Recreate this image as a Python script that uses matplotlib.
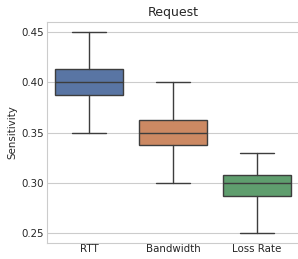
import numpy as np
import matplotlib
matplotlib.use("Agg")
import matplotlib.pyplot as plt
import seaborn as sns

# summary stats
categorias = ["RTT", "Bandwidth", "Loss Rate"]
whislo = [0.35, 0.30, 0.25]
q1 = [0.387, 0.3375, 0.287]
med = [0.40, 0.35, 0.30]
q3 = [0.413, 0.3625, 0.3075]
whishi = [0.45, 0.40, 0.33]

sns.set_style("whitegrid")
plt.rcParams["font.family"] = ["DejaVu Sans"]

colores = [sns.desaturate(c, 0.75) for c in sns.color_palette("deep")[:3]]

stats = []
for i, nombre in enumerate(categorias):
    stats.append(dict(label=nombre, whislo=whislo[i], q1=q1[i], med=med[i],
                      q3=q3[i], whishi=whishi[i], fliers=[]))

fig = plt.figure(figsize=(2.98, 2.59), dpi=100)
ax = fig.add_axes([47 / 298, 16 / 259, 252 / 298, 221 / 259])

gris = "#3d3d3d"
bp = ax.bxp(stats, positions=np.arange(len(categorias)), widths=0.8,
            patch_artist=True, showfliers=False,
            boxprops=dict(edgecolor=gris, linewidth=1.0),
            medianprops=dict(color=gris, linewidth=1.0),
            whiskerprops=dict(color=gris, linewidth=1.0),
            capprops=dict(color=gris, linewidth=1.0))
for caja, c in zip(bp["boxes"], colores):
    caja.set_facecolor(c)

ax.set_xlim(-0.5, 2.5)
ax.set_ylim(0.24, 0.46)
ax.set_yticks([0.25, 0.30, 0.35, 0.40, 0.45])
ax.yaxis.set_major_formatter(matplotlib.ticker.FormatStrFormatter("%.2f"))
ax.grid(axis="x", visible=False)
ax.tick_params(labelsize=7.4, length=0, labelcolor="#262626")
ax.tick_params(axis="x", pad=1)
ax.tick_params(axis="y", pad=2)
ax.set_ylabel("Sensitivity", fontsize=7.4, color="#262626", labelpad=3)
ax.set_title("Request", fontsize=9, color="#262626", pad=4)
for s in ax.spines.values():
    s.set_color("#cccccc")

fig.savefig("out.png", dpi=100)
